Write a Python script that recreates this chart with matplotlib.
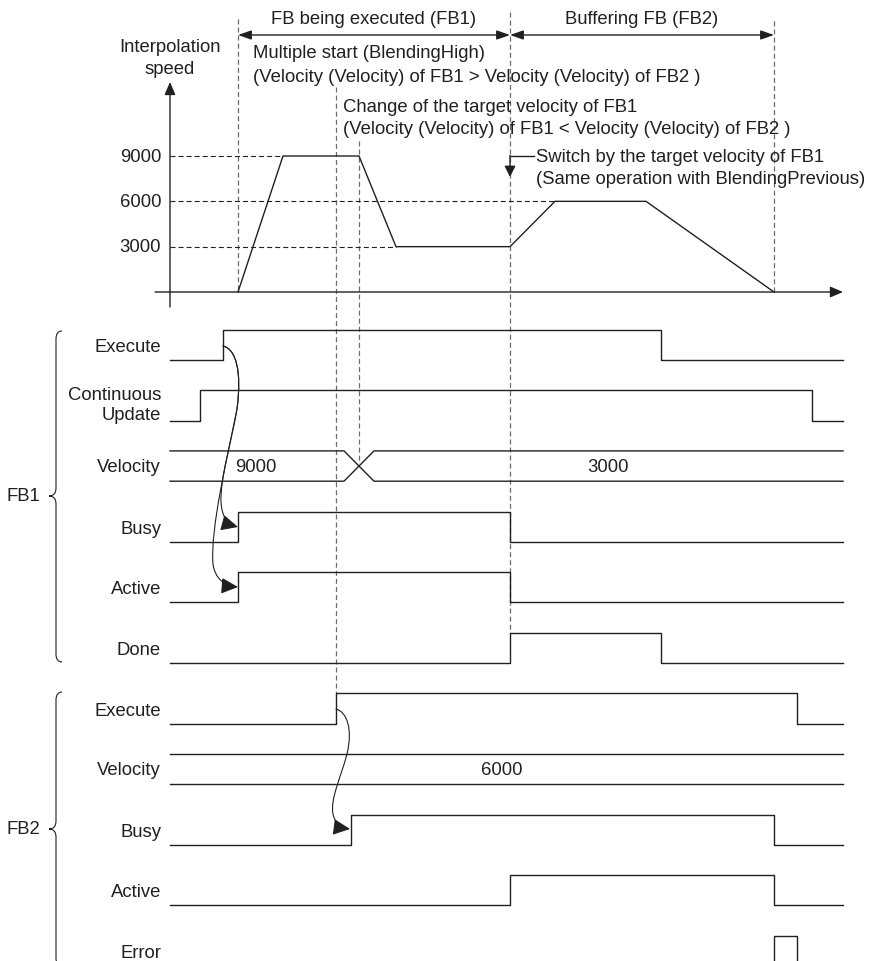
import matplotlib
matplotlib.use("Agg")
import matplotlib.pyplot as plt
from matplotlib.path import Path
from matplotlib.patches import FancyArrowPatch, PathPatch

plt.rcParams['font.family'] = ['Liberation Sans', 'DejaVu Sans']
plt.rcParams['lines.scale_dashes'] = False

INK = '#231f20'
DASH = '#6d6d6d'
FS = 13.3

# time axis (arbitrary units, 0 = speed axis)
t_end = 673
t_fb1_start = 68
t_fb2_start = 166
t_vel_change = 189
t_switch = 340
t_fb2_end = 604

# interpolation speed profile
speed_t = [68, 113, 189, 226, 340, 385, 476, 604]
speed_v = [0, 9000, 9000, 3000, 3000, 6000, 6000, 0]
speed_ticks = [9000, 6000, 3000]

# FB1 signals (rise, fall)
fb1_execute = [53, 491]
fb1_cont_update = [30, 642]
fb1_busy = [68, 340]
fb1_active = [68, 340]
fb1_done = [340, 491]
fb1_vel_values = ['9000', '3000']
fb1_vel_change = [174, 204]

# FB2 signals (rise, fall)
fb2_execute = [166, 627]
fb2_vel_values = ['6000']
fb2_busy = [181, 604]
fb2_active = [340, 604]
fb2_error = [604, 627]

# layout (pixels)
ROW0 = 361
ROW_H = 60.6
HIGH = 30.3
SPEED_ZERO = 293
PX_PER_SPEED = (293 - 157) / 9000

fig = plt.figure(figsize=(8.71, 9.62), dpi=100)
ax = fig.add_axes([0, 0, 1, 1])
ax.set_xlim(-170, 701)
ax.set_ylim(962, 0)
ax.axis('off')

sp = fig.add_axes([0, 0, 1, 1])
sp.set_xlim(-170, 701)
sp.set_ylim((SPEED_ZERO - 962) / PX_PER_SPEED, SPEED_ZERO / PX_PER_SPEED)
sp.axis('off')
sp.patch.set_alpha(0)

lw = 1.0

# ---- speed graph ----
ax.annotate('', xy=(0, 83), xytext=(0, 308),
            arrowprops=dict(arrowstyle='-|>,head_length=0.7,head_width=0.3', color=INK,
                            lw=lw, shrinkA=0, shrinkB=0, mutation_scale=11))
ax.annotate('', xy=(t_end, SPEED_ZERO), xytext=(-15, SPEED_ZERO),
            arrowprops=dict(arrowstyle='-|>,head_length=0.7,head_width=0.3', color=INK,
                            lw=lw, shrinkA=0, shrinkB=0, mutation_scale=11))
sp.plot(speed_t, speed_v, color=INK, lw=lw)
for lev in speed_ticks:
    t_stop = speed_t[speed_v.index(lev)]
    sp.plot([0, t_stop], [lev, lev], color=INK, lw=0.8, ls=(0, (3.6, 2.2)))
    sp.text(-9, lev, str(lev), ha='right', va='center', fontsize=FS, color=INK)
ax.text(0, 47, 'Interpolation', ha='center', va='center', fontsize=FS, color=INK)
ax.text(0, 70, 'speed', ha='center', va='center', fontsize=FS, color=INK)

# dashed time markers
for t, y0, y1 in [(t_fb1_start, 20, SPEED_ZERO), (t_fb2_start, 88, ROW0 + 6 * ROW_H - HIGH),
                  (t_vel_change, 142, 462), (t_switch, 13, ROW0 + 5 * ROW_H - HIGH),
                  (t_fb2_end, 22, SPEED_ZERO)]:
    ax.plot([t, t], [y0, y1], color=DASH, lw=0.9, ls=(0, (3.6, 2.2)))

# top range arrows
for a, b, label in [(t_fb1_start, t_switch, 'FB being executed (FB1)'),
                    (t_switch, t_fb2_end, 'Buffering FB (FB2)')]:
    ax.annotate('', xy=(a, 36), xytext=(b, 36),
                arrowprops=dict(arrowstyle='<|-|>,head_length=0.8,head_width=0.28', color=INK,
                                lw=lw, shrinkA=0, shrinkB=0, mutation_scale=10))
    ax.text((a + b) / 2, 20, label, ha='center', va='center', fontsize=FS, color=INK)

ax.text(83, 54, 'Multiple start (BlendingHigh)', ha='left', va='center', fontsize=FS, color=INK)
ax.text(83, 77, '(Velocity (Velocity) of FB1 > Velocity (Velocity) of FB2 )',
        ha='left', va='center', fontsize=FS, color=INK)
ax.text(173, 108, 'Change of the target velocity of FB1', ha='left', va='center', fontsize=FS, color=INK)
ax.text(173, 130, '(Velocity (Velocity) of FB1 < Velocity (Velocity) of FB2 )',
        ha='left', va='center', fontsize=FS, color=INK)
ax.text(366, 157, 'Switch by the target velocity of FB1', ha='left', va='center', fontsize=FS, color=INK)
ax.text(366, 180, '(Same operation with BlendingPrevious)', ha='left', va='center', fontsize=FS, color=INK)
ax.plot([364, t_switch], [157, 157], color=INK, lw=lw)
ax.annotate('', xy=(t_switch, 178), xytext=(t_switch, 156.5),
            arrowprops=dict(arrowstyle='-|>,head_length=0.6,head_width=0.3', color=INK,
                            lw=lw, shrinkA=0, shrinkB=0, mutation_scale=11))


# ---- timing chart ----
def bit(row, edges, label):
    base = ROW0 + ROW_H * row
    times = [0] + list(edges) + [t_end]
    levels = [0, 1, 0, 0]
    ax.step(times, [base - HIGH * v for v in levels], where='post', color=INK, lw=lw)
    if label:
        ax.text(-9, base - 13.5, label, ha='right', va='center', fontsize=FS, color=INK)


def bus(row, values, label, change=None, positions=()):
    base = ROW0 + ROW_H * row
    top, bot = base - HIGH, base
    if change:
        c0, c1 = change
        ax.plot([0, c0, c1, t_end], [top, top, bot, bot], color=INK, lw=lw)
        ax.plot([0, c0, c1, t_end], [bot, bot, top, top], color=INK, lw=lw)
    else:
        ax.plot([0, t_end], [top, top], color=INK, lw=lw)
        ax.plot([0, t_end], [bot, bot], color=INK, lw=lw)
    for v, x in zip(values, positions):
        ax.text(x, base - HIGH / 2, v, ha='center', va='center', fontsize=FS, color=INK)
    ax.text(-9, base - HIGH / 2, label, ha='right', va='center', fontsize=FS, color=INK)


bit(0, fb1_execute, 'Execute')
bit(1, fb1_cont_update, None)
ax.text(-9, ROW0 + ROW_H - 16, 'Continuous\nUpdate', ha='right', va='center',
        fontsize=FS, color=INK, linespacing=1.2)
bus(2, fb1_vel_values, 'Velocity', change=fb1_vel_change, positions=(86, 438))
bit(3, fb1_busy, 'Busy')
bit(4, fb1_active, 'Active')
bit(5, fb1_done, 'Done')

bit(6, fb2_execute, 'Execute')
bus(7, fb2_vel_values, 'Velocity', positions=(332,))
bit(8, fb2_busy, 'Busy')
bit(9, fb2_active, 'Active')
bit(10, fb2_error, 'Error')


def brace(top, mid, bottom, label):
    x0, x1, xt = -108, -114, -121
    r = 8
    verts = [(x0, top), (x1, top), (x1, top + r), (x1, mid - r), (x1, mid), (xt, mid),
             (x1, mid), (x1, mid + r), (x1, bottom - r), (x1, bottom), (x0, bottom)]
    codes = [Path.MOVETO, Path.CURVE3, Path.CURVE3, Path.LINETO, Path.CURVE3, Path.CURVE3,
             Path.CURVE3, Path.CURVE3, Path.LINETO, Path.CURVE3, Path.CURVE3]
    ax.add_patch(PathPatch(Path(verts, codes), fill=False, edgecolor=INK, lw=0.8))
    ax.text(-147, mid, label, ha='center', va='center', fontsize=FS, color=INK)


brace(332, 497, 663, 'FB1')
brace(693, 830, 967, 'FB2')


def cause(verts):
    codes = [Path.MOVETO] + [Path.CURVE4] * (len(verts) - 1)
    ax.add_patch(FancyArrowPatch(path=Path(verts, codes),
                                 arrowstyle='-|>,head_length=0.8,head_width=0.38',
                                 mutation_scale=13, color=INK, lw=0.8))


cause([(53, 347), (66, 350), (72, 372), (67, 410),
       (61, 445), (50, 480), (51, 503),
       (52, 518), (57, 525), (68, 528)])
cause([(53, 347), (66, 350), (72, 372), (67, 410),
       (58, 455), (40, 530), (43, 565),
       (45, 580), (55, 587), (68, 588)])
cause([(166, 710), (177, 713), (183, 730), (177, 755),
       (171, 778), (160, 800), (163, 815),
       (165, 825), (172, 829), (180, 830)])

fig.savefig('out.png', dpi=100)
